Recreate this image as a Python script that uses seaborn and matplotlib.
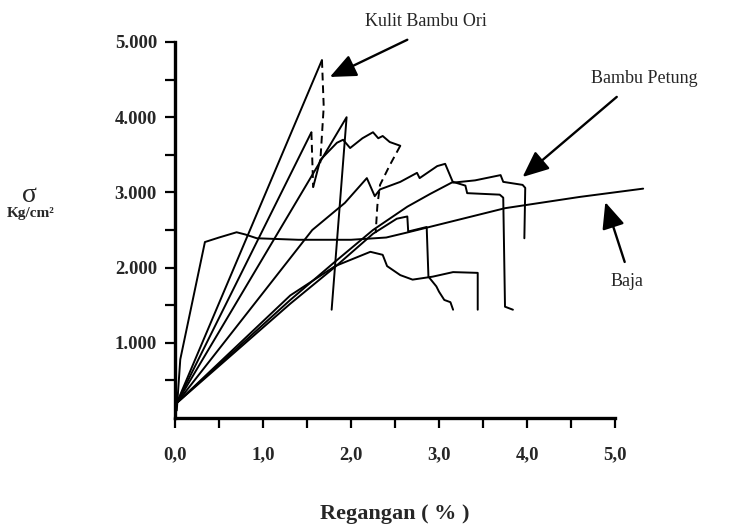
import numpy as np
import matplotlib
matplotlib.use('Agg')
import matplotlib.pyplot as plt
import seaborn as sns

# Values
# strain in %, stress in kg/cm2

# Baja (steel)
baja_x = [0.02, 0.06, 0.34, 0.50, 0.70, 0.80, 0.93, 1.40, 2.00, 2.40, 2.65, 3.20, 3.75, 4.60, 5.32]
baja_y = [100, 780, 2340, 2400, 2470, 2440, 2390, 2370, 2370, 2400, 2470, 2630, 2790, 2940, 3050]

# Kulit Bambu Ori, specimen 1 (solid rise, dashed drop)
kulit1_x = [0.02, 1.67]
kulit1_y = [200, 4760]
kulit1_drop_x = [1.67, 1.69, 1.65]
kulit1_drop_y = [4760, 4140, 3390]

# Kulit Bambu Ori, specimen 2
kulit2_x = [0.02, 1.55]
kulit2_y = [200, 3800]
kulit2_drop1_x = [1.55, 1.57]
kulit2_drop1_y = [3800, 3070]
kulit2_mid_x = [1.57, 1.65, 1.84, 1.91, 1.99, 2.13, 2.25, 2.31, 2.36, 2.44, 2.56]
kulit2_mid_y = [3070, 3430, 3660, 3700, 3590, 3720, 3800, 3720, 3750, 3670, 3620]
kulit2_drop2_x = [2.56, 2.44, 2.33, 2.30, 2.28]
kulit2_drop2_y = [3620, 3360, 3100, 2830, 2460]

# Kulit Bambu Ori, specimen 3
kulit3_x = [0.02, 1.95, 1.78]
kulit3_y = [200, 4000, 1440]

# Bambu Petung specimens
petung1_x = [0.02, 0.85, 1.56, 1.93, 2.18, 2.27, 2.33, 2.56, 2.75, 2.78, 2.98, 3.07, 3.16, 3.41,
             3.70, 3.73, 3.95, 3.98, 3.97]
petung1_y = [200, 1440, 2500, 2860, 3190, 2950, 3040, 3140, 3260, 3190, 3350, 3380, 3130, 3160,
             3230, 3140, 3100, 3060, 2390]

petung2_x = [0.02, 1.31, 1.80, 2.25, 2.64, 2.90, 3.16, 3.30, 3.32, 3.69, 3.73, 3.75, 3.84]
petung2_y = [200, 1570, 2060, 2500, 2810, 2980, 3140, 3090, 2990, 2970, 2930, 1480, 1440]

petung3_x = [0.02, 1.31, 1.82, 2.25, 2.52, 2.64, 2.65, 2.86, 2.88, 2.97, 3.00, 3.06, 3.13, 3.16]
petung3_y = [200, 1520, 2010, 2450, 2650, 2680, 2480, 2540, 1880, 1750, 1680, 1570, 1540, 1440]

petung4_x = [0.02, 1.31, 1.82, 2.22, 2.36, 2.41, 2.56, 2.70, 2.93, 3.16, 3.44, 3.44]
petung4_y = [200, 1630, 2020, 2210, 2170, 2020, 1900, 1840, 1880, 1940, 1930, 1440]

x_ticks = [0, 0.5, 1.0, 1.5, 2.0, 2.5, 3.0, 3.5, 4.0, 4.5, 5.0]
x_labels = ['0,0', '', '1,0', '', '2,0', '', '3,0', '', '4,0', '', '5,0']
y_ticks = [500, 1000, 1500, 2000, 2500, 3000, 3500, 4000, 4500, 5000]
y_labels = ['', '1.000', '', '2.000', '', '3.000', '', '4.000', '', '5.000']

sns.set_theme(style='white')
plt.rcParams['font.family'] = ['Liberation Serif', 'DejaVu Serif']

fig = plt.figure(figsize=(7.39, 5.28), dpi=100)
ax = fig.add_axes([175 / 739, 1 - 418 / 528, 440 / 739, 376 / 528])

solid = [(baja_x, baja_y), (kulit1_x, kulit1_y), (kulit2_x, kulit2_y), (kulit2_mid_x, kulit2_mid_y),
         (kulit3_x, kulit3_y), (petung1_x, petung1_y), (petung2_x, petung2_y),
         (petung3_x, petung3_y), (petung4_x, petung4_y)]
dashed = [(kulit1_drop_x, kulit1_drop_y), (kulit2_drop1_x, kulit2_drop1_y),
          (kulit2_drop2_x, kulit2_drop2_y)]

for xs, ys in solid:
    sns.lineplot(x=xs, y=ys, ax=ax, sort=False, estimator=None, color='black',
                 linewidth=1.4, clip_on=False)
for xs, ys in dashed:
    sns.lineplot(x=xs, y=ys, ax=ax, sort=False, estimator=None, color='black',
                 linewidth=1.4, linestyle=(0, (4, 2.5)), clip_on=False)

ax.set_xlim(0, 5.0)
ax.set_ylim(0, 5000)
ax.set_xticks(x_ticks)
ax.set_xticklabels(x_labels, fontsize=13.5, fontweight='bold')
ax.set_yticks(y_ticks)
ax.set_yticklabels(y_labels, fontsize=13.5, fontweight='bold')
ax.xaxis.get_major_ticks()[0].tick1line.set_visible(False)
ax.tick_params(axis='both', direction='out', length=7, width=1.6, color='black',
               bottom=True, left=True)
ax.tick_params(axis='x', pad=13)
ax.tick_params(axis='y', pad=6)

for side in ['top', 'right']:
    ax.spines[side].set_visible(False)
for side in ['left', 'bottom']:
    ax.spines[side].set_color('black')
    ax.spines[side].set_linewidth(2.4)

ax.set_xlabel('Regangan ( % )', fontsize=16, fontweight='bold', labelpad=30)
ax.set_ylabel('')
fig.text(29 / 739, 1 - 196 / 528, 'σ', fontsize=20, ha='center', va='center')
fig.text(31 / 739, 1 - 214 / 528, 'Kg/cm²', fontsize=11, fontweight='bold',
         ha='center', va='center')

# annotations with arrows
arrow = dict(arrowstyle='-|>,head_length=0.8,head_width=0.35', color='black', lw=1.7,
             mutation_scale=20, shrinkA=0, shrinkB=0)
ax.annotate('', xy=(1.76, 4535), xytext=(2.64, 5030), arrowprops=arrow, annotation_clip=False)
ax.annotate('', xy=(3.95, 3205), xytext=(5.02, 4270), arrowprops=arrow, annotation_clip=False)
ax.annotate('', xy=(4.89, 2870), xytext=(5.11, 2075), arrowprops=arrow, annotation_clip=False)

ax.text(2.85, 5270, 'Kulit Bambu Ori', fontsize=13, ha='center', va='center')
ax.text(5.33, 4520, 'Bambu Petung', fontsize=13, ha='center', va='center')
ax.text(5.14, 1820, 'Baja', fontsize=13, ha='center', va='center')

plt.savefig('out.png', dpi=100)
